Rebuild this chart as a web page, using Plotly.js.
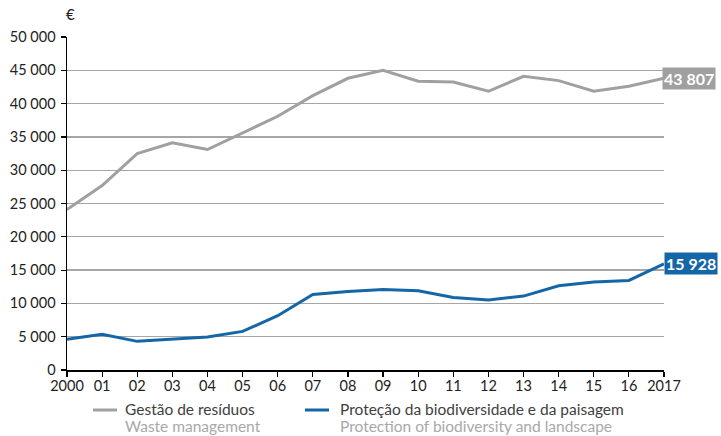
<!DOCTYPE html>
<html>
<head>
<meta charset="utf-8">
<script src="https://cdn.plot.ly/plotly-3.0.1.min.js"></script>
<style>html,body{margin:0;padding:0;background:#fff;}#chart{width:721px;height:436px;}</style>
</head>
<body>
<div id="chart"></div>
<script>
const years = [2000,2001,2002,2003,2004,2005,2006,2007,2008,2009,2010,2011,2012,2013,2014,2015,2016,2017];
const xTickLabels = ['2000','01','02','03','04','05','06','07','08','09','10','11','12','13','14','15','16','2017'];
const wasteValues = [24100,27700,32500,34100,33100,35600,38100,41200,43800,45000,43350,43250,41850,44100,43450,41850,42600,43807];
const biodivValues = [4600,5350,4300,4650,4950,5800,8150,11350,11800,12100,11900,10900,10500,11100,12650,13200,13450,15928];
const wasteName = 'Gestão de resíduos';
const wasteNameEn = 'Waste management';
const biodivName = 'Proteção da biodiversidade e da paisagem';
const biodivNameEn = 'Protection of biodiversity and landscape';
const wasteColor = '#a0a0a0';
const biodivColor = '#1466a6';
const fmt = v => String(v).replace(/\B(?=(\d{3})+(?!\d))/g, ' ');

const traces = [
  {x: years, y: wasteValues, type: 'scatter', mode: 'lines', line: {color: wasteColor, width: 3},
   name: wasteName, hoverinfo: 'skip', showlegend: false},
  {x: years, y: biodivValues, type: 'scatter', mode: 'lines', line: {color: biodivColor, width: 3},
   name: biodivName, hoverinfo: 'skip', showlegend: false}
];

// plot area geometry (pixels) used to place the hand-made legend
const W = 721, H = 436, mL = 67, mR = 57, mT = 37, mB = 66;
const pw = W - mL - mR, ph = H - mT - mB;
const px = v => (v - mL) / pw;
const py = v => (H - mB - v) / ph;

const legendItems = [
  {color: wasteColor, name: wasteName, nameEn: wasteNameEn, sx0: 93, sx1: 117, tx: 124},
  {color: biodivColor, name: biodivName, nameEn: biodivNameEn, sx0: 305, sx1: 329, tx: 339}
];
const shapes = [], legendAnn = [];
legendItems.forEach(it => {
  shapes.push({type: 'line', xref: 'paper', yref: 'paper', x0: px(it.sx0), x1: px(it.sx1),
               y0: py(410), y1: py(410), line: {color: it.color, width: 3}});
  legendAnn.push({xref: 'paper', yref: 'paper', x: px(it.tx), y: py(408.5), xanchor: 'left', yanchor: 'middle',
                  text: it.name, showarrow: false, borderpad: 0, font: {size: 15.5, color: '#404040'}});
  legendAnn.push({xref: 'paper', yref: 'paper', x: px(it.tx), y: py(426), xanchor: 'left', yanchor: 'middle',
                  text: it.nameEn, showarrow: false, borderpad: 0, font: {size: 15.5, color: '#a8a8a8'}});
});

const last = years.length - 1;
const layout = {
  width: W, height: H,
  margin: {l: mL, r: mR, t: mT, b: mB},
  paper_bgcolor: '#fff', plot_bgcolor: '#fff',
  separators: ', ',
  font: {family: 'Lato, sans-serif', size: 15, color: '#222'},
  showlegend: false,
  xaxis: {range: [2000, 2017], tickvals: years, ticktext: xTickLabels, showgrid: false,
          showline: true, linecolor: '#000', linewidth: 1.5, ticks: 'outside', ticklen: 5,
          tickcolor: '#000', tickwidth: 1.2, zeroline: false, fixedrange: true, automargin: false,
          ticklabelstandoff: -3, tickfont: {size: 14.5, color: '#222'}},
  yaxis: {range: [0, 50000], dtick: 5000, tickformat: ',d', showgrid: true, gridcolor: '#a6a6a6',
          gridwidth: 1.3, showline: true, linecolor: '#000', linewidth: 1.5, ticks: 'outside',
          ticklen: 5, tickcolor: '#000', tickwidth: 1.2, zeroline: false, fixedrange: true, automargin: false,
          ticklabelstandoff: 2, tickfont: {size: 14.5, color: '#222'}},
  shapes: shapes,
  annotations: [
    {xref: 'paper', yref: 'paper', x: -0.005, y: 1.035, xanchor: 'left', yanchor: 'bottom',
     text: '€', showarrow: false, font: {size: 15, color: '#222'}},
    {x: years[last], y: wasteValues[last], xanchor: 'left', yanchor: 'middle', xshift: -2,
     text: '<b>' + fmt(wasteValues[last]) + '</b>', showarrow: false, bgcolor: wasteColor,
     borderpad: 1, font: {size: 16, color: '#fff'}},
    {x: years[last], y: biodivValues[last], xanchor: 'left', yanchor: 'middle', xshift: 0,
     text: '<b>' + fmt(biodivValues[last]) + '</b>', showarrow: false, bgcolor: biodivColor,
     borderpad: 1, font: {size: 16, color: '#fff'}}
  ].concat(legendAnn)
};

Plotly.newPlot('chart', traces, layout, {staticPlot: true, displayModeBar: false});
</script>
</body>
</html>
